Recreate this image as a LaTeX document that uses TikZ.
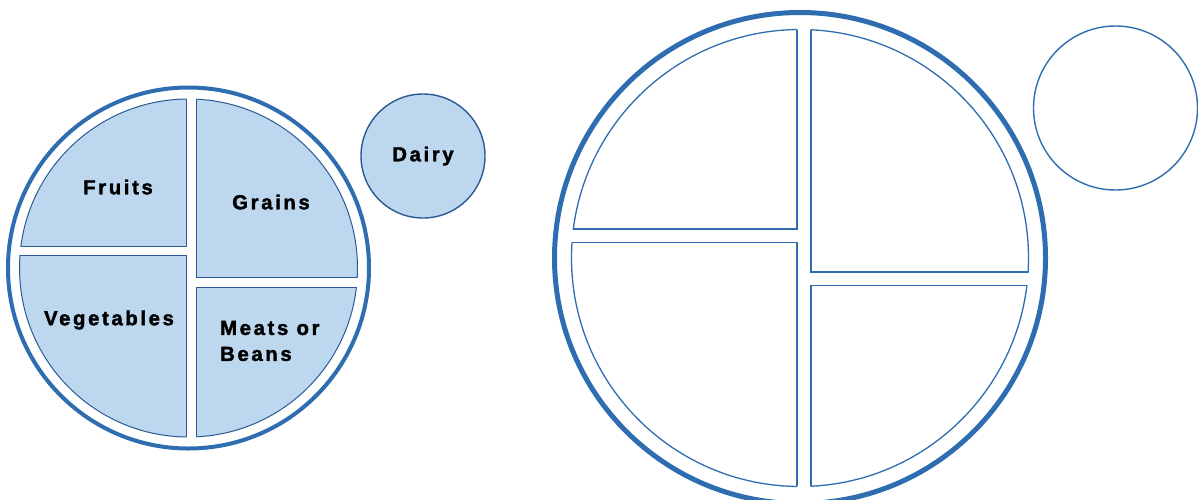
\documentclass[tikz,border=0pt]{standalone}
\usepackage{fontspec}
\setmainfont{Liberation Sans}
\newfontfamily\platefont[LetterSpace=13,BoldFeatures={FakeBold=1.8}]{Liberation Sans}
\definecolor{ringblue}{HTML}{2E6DB0}
\definecolor{edgeblue}{HTML}{2A5A96}
\definecolor{foodblue}{HTML}{BDD7EE}
\tikzset{
  ring/.style={draw=ringblue,fill=white},
  part/.style={draw=edgeblue,line width=1pt},
  dairy/.style={circle,draw=edgeblue,line width=1.4pt,inner sep=0pt},
  lbl/.style={font=\platefont\bfseries\fontsize{20.3}{26}\selectfont,
    inner sep=0pt},
}
% one section of a plate: centre, radius, two corners, fill
\newcommand{\platepart}[5]{%
  \begin{scope}
    \clip #1 circle[radius=#2pt];
    \filldraw[part,fill=#5] #3 rectangle #4;
  \end{scope}
  \begin{scope}
    \clip #3 rectangle #4;
    \draw[part] #1 circle[radius=#2pt];
  \end{scope}}

\begin{document}
\begin{tikzpicture}[x=1pt,y=-1pt]
  \useasboundingbox (0,0) rectangle (1198,499);
  \clip (0,0) rectangle (1198,499);
  \fill[white] (0,0) rectangle (1198,499);

  % filled plate
  \draw[ring,line width=4pt] (188.5,268) circle[radius=180.5pt];
  \platepart{(188.5,268)}{169}{(0,80)}{(186.5,246)}{foodblue}
  \platepart{(188.5,268)}{169}{(0,255.5)}{(186.5,460)}{foodblue}
  \platepart{(188.5,268)}{169}{(196.5,80)}{(380,277.5)}{foodblue}
  \platepart{(188.5,268)}{169}{(196.5,287)}{(380,460)}{foodblue}

  \node[lbl] (fruits) at (118,187) {Fruits};
  \node[lbl] (grains) at (271,202) {Grains};
  \node[lbl] (veg) at (109,320) {Vegetables};
  \node[lbl,align=left,anchor=west] (meats) at (220,341) {Meats or\\Beans};
  \node[dairy,lbl,fill=foodblue,minimum size=124pt] (dairyA) at (423,156)
    {Dairy};

  % empty plate
  \draw[ring,line width=5pt] (800,258) circle[radius=245.5pt];
  \begin{scope}[part/.append style={draw=ringblue,line width=1.3pt}]
    \platepart{(800,258)}{228.5}{(540,0)}{(797,229)}{white}
    \platepart{(800,258)}{228.5}{(540,242.5)}{(797,520)}{white}
    \platepart{(800,258)}{228.5}{(811,0)}{(1060,272)}{white}
    \platepart{(800,258)}{228.5}{(811,285.5)}{(1060,520)}{white}
  \end{scope}
  \node[dairy,draw=ringblue,fill=white,minimum size=164pt] (dairyB)
    at (1115.5,108) {};
\end{tikzpicture}
\end{document}
